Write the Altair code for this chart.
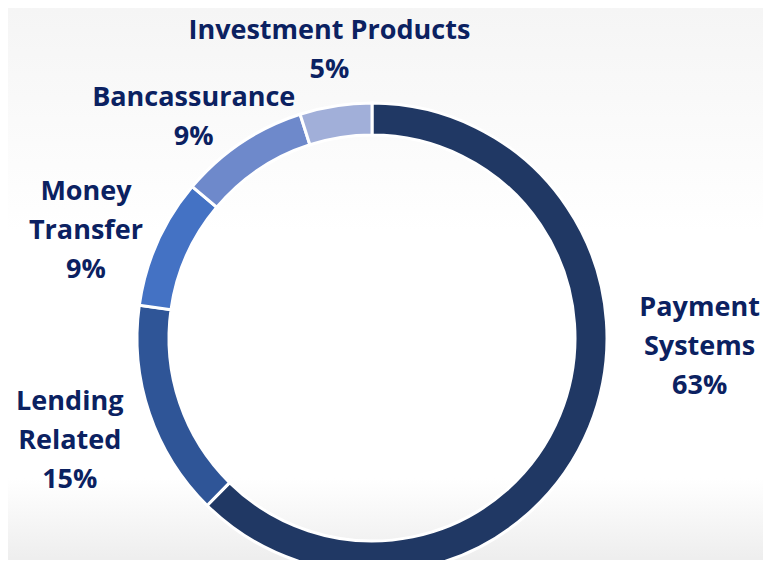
import altair as alt
import pandas as pd
import math

# ---- data ----
categories = ["Payment Systems", "Lending Related", "Money Transfer", "Bancassurance", "Investment Products"]
shares = [63, 15, 9, 9, 5]
label_texts = ["Payment\nSystems\n63%", "Lending\nRelated\n15%", "Money\nTransfer\n9%",
               "Bancassurance\n9%", "Investment Products\n5%"]

# ---- layout / style ----
colors = ["#203864", "#2f5597", "#4472c4", "#6e89cb", "#a1afd9"]
label_angle_deg = [84.7, 258.0, 297.0, 323.4, 352.1]   # anchor of first line
label_radius = [329, 309, 321, 299, 310]
CX, CY = 364, 330
W, H = 755, 552

df = pd.DataFrame({
    "category": categories,
    "share": shares,
    "order": list(range(len(categories))),
})
labels = pd.DataFrame({
    "label": label_texts,
    "theta": [math.radians(a) for a in label_angle_deg],
    "r": label_radius,
})

bg = alt.Chart(pd.DataFrame({"a": [0]})).mark_rect(
    color=alt.Gradient(
        gradient="linear", x1=0, y1=0, x2=0, y2=1,
        stops=[
            alt.GradientStop(color="#f5f5f5", offset=0),
            alt.GradientStop(color="#ffffff", offset=0.4),
            alt.GradientStop(color="#ffffff", offset=0.84),
            alt.GradientStop(color="#ececec", offset=1),
        ],
    )
).encode(x=alt.value(0), x2=alt.value(W), y=alt.value(0), y2=alt.value(H + 8))

ring = alt.Chart(df).mark_arc(
    outerRadius=235, innerRadius=203, stroke="white", strokeWidth=3
).encode(
    theta=alt.Theta("share:Q", stack=True),
    color=alt.Color("category:N", scale=alt.Scale(domain=categories, range=colors), legend=None),
    order=alt.Order("order:Q"),
    x=alt.value(CX),
    y=alt.value(CY),
)

text = alt.Chart(labels).mark_text(
    font="Open Sans", fontWeight="bold", fontSize=27, color="#0b2161",
    align="center", baseline="middle", lineBreak="\n", lineHeight=39,
).encode(
    text="label:N",
    theta=alt.Theta("theta:Q", scale=None),
    radius=alt.Radius("r:Q", scale=None),
    x=alt.value(CX),
    y=alt.value(CY),
)

chart = alt.layer(bg, ring, text).properties(
    width=W, height=H, autosize=alt.AutoSizeParams(type="none"), padding=0,
).configure_view(stroke=None)

chart.save("out.html", embed_options={"renderer": "svg", "actions": False})
